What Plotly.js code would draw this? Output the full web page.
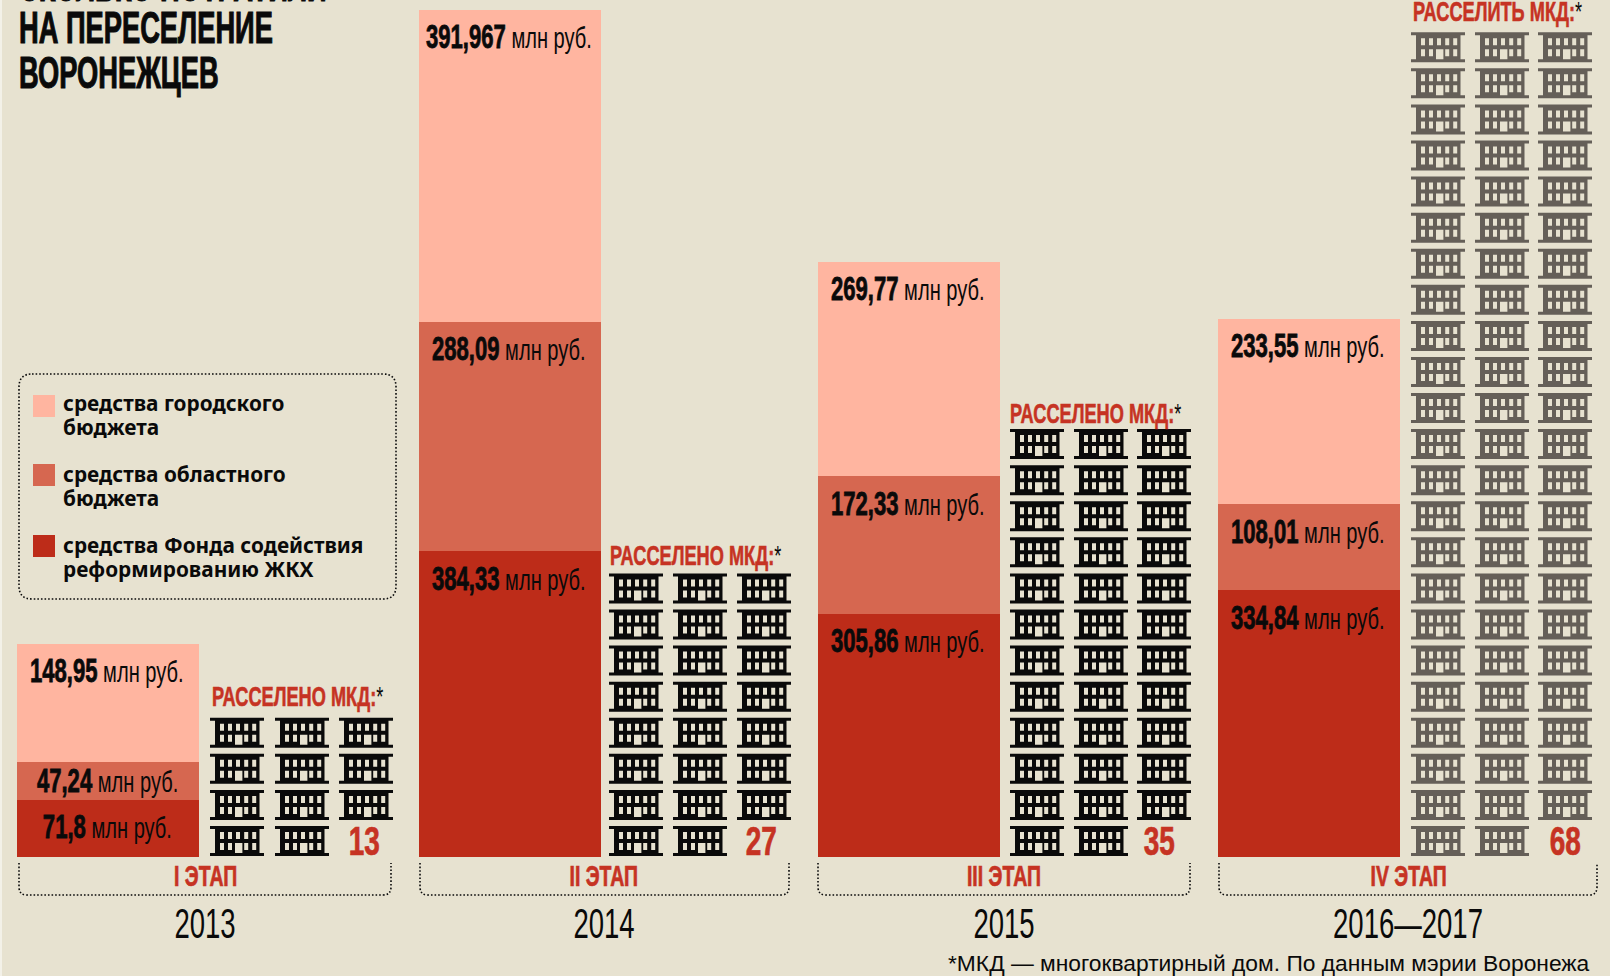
<!DOCTYPE html>
<html><head><meta charset="utf-8"><script src="https://cdn.plot.ly/plotly-3.0.1.min.js"></script>
<style>html,body{margin:0;padding:0;background:#E7E2D0}</style></head><body><div id="c" style="width:1610px;height:976px"></div>
<script>
// ---------- data ----------
const periods = ['2013','2014','2015','2016—2017'];
const stages = ['I ЭТАП','II ЭТАП','III ЭТАП','IV ЭТАП'];
const cityBudget = [148.95,391.967,269.77,233.55];
const regionBudget = [47.24,288.09,172.33,108.01];
const fundMoney = [71.8,384.33,305.86,334.84];
const housesCount = [13,27,35,68];
const housesIcons = [11,23,35,68];
const housesHeader = ['РАССЕЛЕНО МКД:','РАССЕЛЕНО МКД:','РАССЕЛЕНО МКД:','РАССЕЛИТЬ МКД:'];
const legendLines = [['средства городского','бюджета'],['средства областного','бюджета'],['средства Фонда содействия','реформированию ЖКХ']];
const titleLines = ['СКОЛЬКО ПОТРАТИЛИ','НА ПЕРЕСЕЛЕНИЕ','ВОРОНЕЖЦЕВ'];
const footnote = '*МКД — многоквартирный дом. По данным мэрии Воронежа';
const unitText = 'млн руб.';
// ---------- layout constants ----------
const W=1610,H=976,BASE=857,PXU=0.796;
const Y=p=>(BASE-p)/PXU;
const barCenter=[108,510,909,1309], barW=182;
const iconCols=[[210,275,339],[609,673,737],[1010,1074,1137],[1411,1475,1538]];
const bracket=[[19,391],[420,789],[818,1190],[1219,1597]];
const stageCenter=[205,604,1004,1408];
const headerX=[210,608,1008,1411];
const headerY=[696,555,413,11];
const countX=[364,761,1159,1565];
const titleY=[-14,28,73];
const c={bg:'#E7E2D0',city:'#FFB5A0',region:'#D66750',fund:'#BD2C19',red:'#C63323',black:'#0a0a0a',grey:'#655F58'};
const COND='"Liberation Sans",sans-serif';
const names=['средства городского бюджета','средства областного бюджета','средства Фонда содействия реформированию ЖКХ'];

const bar=(y,col,name)=>({type:'bar',x:barCenter,y,width:barW,name,marker:{color:col,line:{width:0}},hoverinfo:'y+name',showlegend:false,customdata:periods});
const data=[bar(fundMoney,c.fund,names[2]),bar(regionBudget,c.region,names[1]),bar(cityBudget,c.city,names[0])];

const ann=[],shapes=[];
const txt=(x,py,text,size,color,sq,o={})=>ann.push(Object.assign({x,y:Y(py),xref:'x',yref:'y',text,showarrow:false,xanchor:'center',yanchor:'middle',
  font:{family:COND,size,color},_sq:sq},o));
const fmt=v=>String(v).replace('.',',');

// bar labels
barCenter.forEach((cx,i)=>{
  const lo=fundMoney[i],mid=lo+regionBudget[i],top=mid+cityBudget[i];
  [[lo,fundMoney[i]],[mid,regionBudget[i]],[top,cityBudget[i]]].forEach(([t,v])=>{
    const off=(v*PXU<40)?18.5:27;
    ann.push({x:cx-1,y:t,xref:'x',yref:'y',yshift:-off,text:'<b><span style="font-size:33px">'+fmt(v)+'</span></b> '+unitText,showarrow:false,xanchor:'center',yanchor:'middle',
      font:{family:COND,size:30,color:c.black},_sq:0.67,_st:0.8});
  });
});

// title
titleLines.forEach((t,i)=>ann.push({x:17,y:1-titleY[i]/H,xref:'x',yref:'paper',xanchor:'left',yanchor:'middle',showarrow:false,text:'<b>'+t+'</b>',
  font:{family:COND,size:44,color:c.black},_sq:0.62,_st:1.1}));

// legend
const rr=(x0,y0,x1,y1,r,open)=>{
  if(open) return `M${x0},${Y(y0)} L${x0},${Y(y1-r)} Q${x0},${Y(y1)} ${x0+r},${Y(y1)} L${x1-r},${Y(y1)} Q${x1},${Y(y1)} ${x1},${Y(y1-r)} L${x1},${Y(y0)}`;
  return `M${x0+r},${Y(y0)} L${x1-r},${Y(y0)} Q${x1},${Y(y0)} ${x1},${Y(y0+r)} L${x1},${Y(y1-r)} Q${x1},${Y(y1)} ${x1-r},${Y(y1)} L${x0+r},${Y(y1)} Q${x0},${Y(y1)} ${x0},${Y(y1-r)} L${x0},${Y(y0+r)} Q${x0},${Y(y0)} ${x0+r},${Y(y0)} Z`;
};
const dotLine={color:c.black,width:1.6,dash:'1.6px,2px'};
shapes.push({type:'path',path:rr(19,374,396,599,13),line:dotLine,fillcolor:'rgba(0,0,0,0)',xref:'x',yref:'y'});
const swTop=[395,464,535], legDy=[8,10,10];
[c.city,c.region,c.fund].forEach((col,i)=>{
  shapes.push({type:'rect',xref:'x',yref:'y',x0:33,x1:55,y0:Y(swTop[i]),y1:Y(swTop[i]+22),fillcolor:col,line:{width:0}});
  legendLines[i].forEach((l,j)=>ann.push({x:61,y:Y(swTop[i]+legDy[i]+j*23.7),xref:'x',yref:'y',text:'<b>'+l+'</b>',showarrow:false,xanchor:'left',yanchor:'middle',
    font:{family:'"Noto Sans",sans-serif',size:20.8,color:c.black}}));
});

// icons
function iconPath(x,y){
  const P=(a,b)=>`${x+a},${Y(y+b)}`;
  const rect=(a0,b0,a1,b1)=>`M${P(a0,b0)} L${P(a1,b0)} L${P(a1,b1)} L${P(a0,b1)} Z`;
  let d=`M${P(0,0)} L${P(54,0)} L${P(54,3)} L${P(49.5,3)} L${P(49.5,27)} L${P(54,27)} L${P(54,30)} L${P(0,30)} L${P(0,27)} L${P(5,27)} L${P(5,3)} L${P(0,3)} Z `;
  [10,18,26,34.2,42.2].forEach((a,k)=>{ d+=rect(a,6,a+4,13)+' '; if(k!==2) d+=rect(a,17,a+4,24)+' '; });
  d+=rect(25,17,32.4,27);
  return d;
}
const rowStep=36.08, lastRow=826;
housesIcons.forEach((n,s)=>{
  const rows=Math.ceil((n+1)/3);
  const col=s===3?c.grey:c.black;
  let placed=0;
  for(let r=0;r<rows;r++){
    const y=lastRow-(rows-1-r)*rowStep;
    for(let k=0;k<3;k++){
      if(placed>=n) break;
      shapes.push({type:'path',xref:'x',yref:'y',path:iconPath(iconCols[s][k],y),fillcolor:col,line:{width:0}});
      placed++;
    }
  }
  ann.push({x:headerX[s],y:Y(headerY[s]),xref:'x',yref:'y',xanchor:'left',yanchor:'middle',showarrow:false,
    text:`<b>${housesHeader[s]}</b><span style="color:${c.black}">*</span>`,font:{family:COND,size:28,color:c.red},_sq:0.65,_st:0.6});
  txt(countX[s],841,'<b>'+housesCount[s]+'</b>',40,c.red,0.7,{_st:0.7});
  txt(stageCenter[s],875,'<b>'+stages[s]+'</b>',30,c.red,0.65,{_st:0.7});
  shapes.push({type:'path',path:rr(bracket[s][0],863,bracket[s][1],895,8,true),line:dotLine,xref:'x',yref:'y'});
});

// footnote
ann.push({x:1592,y:Y(963),xref:'x',yref:'y',xanchor:'right',yanchor:'middle',showarrow:false,text:footnote,font:{family:COND,size:22.8,color:c.black}});
// paper edge
shapes.push({type:'rect',xref:'x',yref:'y',x0:0,x1:2,y0:Y(0),y1:Y(976),fillcolor:'#F3F1E8',line:{width:0},layer:'below'});

const layout={width:W,height:H,margin:{l:0,r:0,t:0,b:0},paper_bgcolor:c.bg,plot_bgcolor:c.bg,barmode:'stack',bargap:0,showlegend:false,
  xaxis:{range:[0,W],showgrid:false,zeroline:false,showline:false,ticks:'',tickmode:'array',tickvals:stageCenter,ticktext:periods,
    tickfont:{family:COND,size:43,color:c.black},anchor:'free',position:(H-894)/H,fixedrange:true},
  yaxis:{range:[Y(H),Y(0)],visible:false,fixedrange:true},
  annotations:ann,shapes};

// DIN-Condensed look: squeeze the real SVG text horizontally, keeping its anchor
function squeeze(el,s,anchor){
  const b=el.getBBox();
  const cx=anchor==='left'?b.x:anchor==='right'?b.x+b.width:b.x+b.width/2;
  const t=el.getAttribute('transform')||'';
  el.setAttribute('transform',`${t} translate(${cx},0) scale(${s},1) translate(${-cx},0)`);
}
Plotly.newPlot('c',data,layout,{displayModeBar:false,staticPlot:true}).then(gd=>{
  gd.querySelectorAll('.annotation').forEach(g=>{
    const a=layout.annotations[+g.getAttribute('data-index')];
    const t=g.querySelector('text');
    if(a&&a._sq&&t){
      squeeze(t,a._sq,a.xanchor);
      t.querySelectorAll('tspan').forEach(ts=>{
        if((ts.getAttribute('style')||'').includes('bold')){ts.style.stroke=a.font.color;ts.style.strokeWidth=a._st+'px';}
      });
    }
  });
  gd.querySelectorAll('.xtick text').forEach(t=>squeeze(t,0.64,'center'));
});
</script></body></html>
